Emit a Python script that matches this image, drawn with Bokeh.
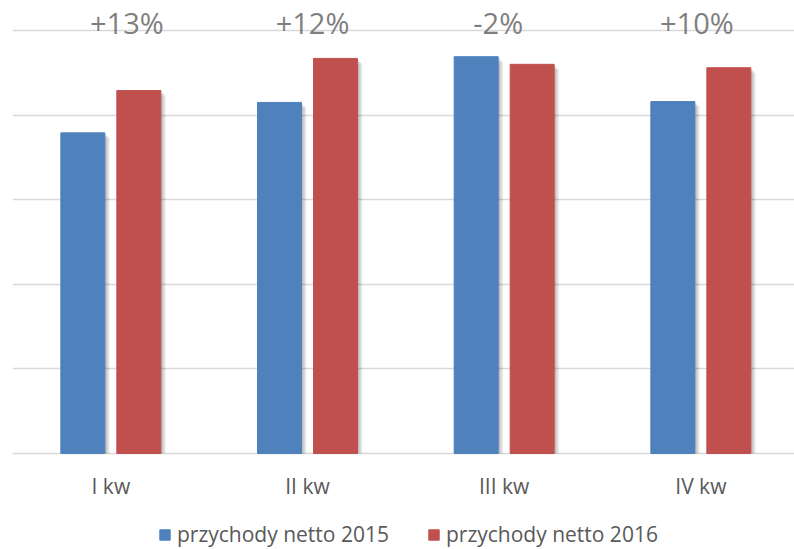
from bokeh.plotting import figure
from bokeh.models import ColumnDataSource, FixedTicker, Legend, LegendItem
from bokeh.transform import dodge
from bokeh.core.properties import value
from bokeh.embed import file_html
from bokeh.resources import INLINE

# ---- data ----
categories = ["I kw", "II kw", "III kw", "IV kw"]
rev_2015 = [3.79, 4.15, 4.69, 4.16]
rev_2016 = [4.29, 4.67, 4.60, 4.56]
change_labels = ["+13%", "+12%", "-2%", "+10%"]
label_x_shift = [16, 5, -6, -4]
series_names = ["przychody netto 2015", "przychody netto 2016"]
grid_levels = [0, 1, 2, 3, 4, 5]

# ---- layout constants ----
PX_X = 1 / 196.67   # data units per pixel (x)
PX_Y = 1 / 84.6     # data units per pixel (y)
BAR_W = 44 * PX_X
OFF = 28 * PX_X
BLUE = "#4f81bd"
RED = "#c0504d"
FONT = "Open Sans"

xs = [i + 0.5 for i in range(len(categories))]
src = ColumnDataSource(dict(
    x=xs, cat=categories, a=rev_2015, b=rev_2016, lab=change_labels,
))

p = figure(width=794, height=549, output_backend="svg", toolbar_location=None,
           x_range=(0, 782 * PX_X), y_range=(-96 * PX_Y, 453 * PX_Y),
           min_border_left=12, min_border_right=0, min_border_top=0,
           min_border_bottom=0)
p.outline_line_color = None
p.background_fill_color = "white"
p.border_fill_color = "white"
p.xgrid.grid_line_color = None
p.ygrid.ticker = FixedTicker(ticks=grid_levels)
p.ygrid.grid_line_color = "#d9d9d9"
p.ygrid.grid_line_width = 1.5
p.yaxis.visible = False
p.xaxis.visible = False

# shadows
for k, (dx, dy, al) in enumerate([(2, 2, 0.10), (3.5, 3.5, 0.09), (5, 5, 0.07)]):
    for col, off in (("a", -OFF), ("b", OFF)):
        shadow_top = [v - dy * PX_Y for v in src.data[col]]
        key = f"s_{col}_{k}"
        src.data[key] = shadow_top
        p.vbar(x=dodge("x", off + dx * PX_X, range=p.x_range), top=key, width=BAR_W,
               source=src, fill_color="#000000", fill_alpha=al, line_color=None)

r1 = p.vbar(x=dodge("x", -OFF, range=p.x_range), top="a", width=BAR_W, source=src,
            fill_color=BLUE, line_color=BLUE)
r2 = p.vbar(x=dodge("x", OFF, range=p.x_range), top="b", width=BAR_W, source=src,
            fill_color=RED, line_color=RED)

# change labels above the categories
src.data["lx"] = label_x_shift
src.data["ly"] = [grid_levels[-1]] * len(categories)
p.text(x="x", y="ly", text="lab", source=src, x_offset="lx", y_offset=-8,
       text_align="center", text_baseline="middle",
       text_font=value(FONT), text_font_size="29px", text_color="#7f7f7f")

# category labels under the baseline
src.data["cy"] = [grid_levels[0]] * len(categories)
p.text(x="x", y="cy", text="cat", source=src, y_offset=32,
       text_align="center", text_baseline="middle",
       text_font=value(FONT), text_font_size="21px", text_color="#595959")

legend = Legend(items=[LegendItem(label=series_names[0], renderers=[r1]),
                       LegendItem(label=series_names[1], renderers=[r2])],
                orientation="horizontal", location=(146, 1),
                label_text_font=FONT, label_text_font_size="21px",
                label_text_color="#595959", glyph_width=13, glyph_height=13,
                label_standoff=6, spacing=38, border_line_color=None,
                background_fill_alpha=0, padding=0, margin=0)
p.add_layout(legend, "center")

open("out.html", "w").write(file_html(p, INLINE))
